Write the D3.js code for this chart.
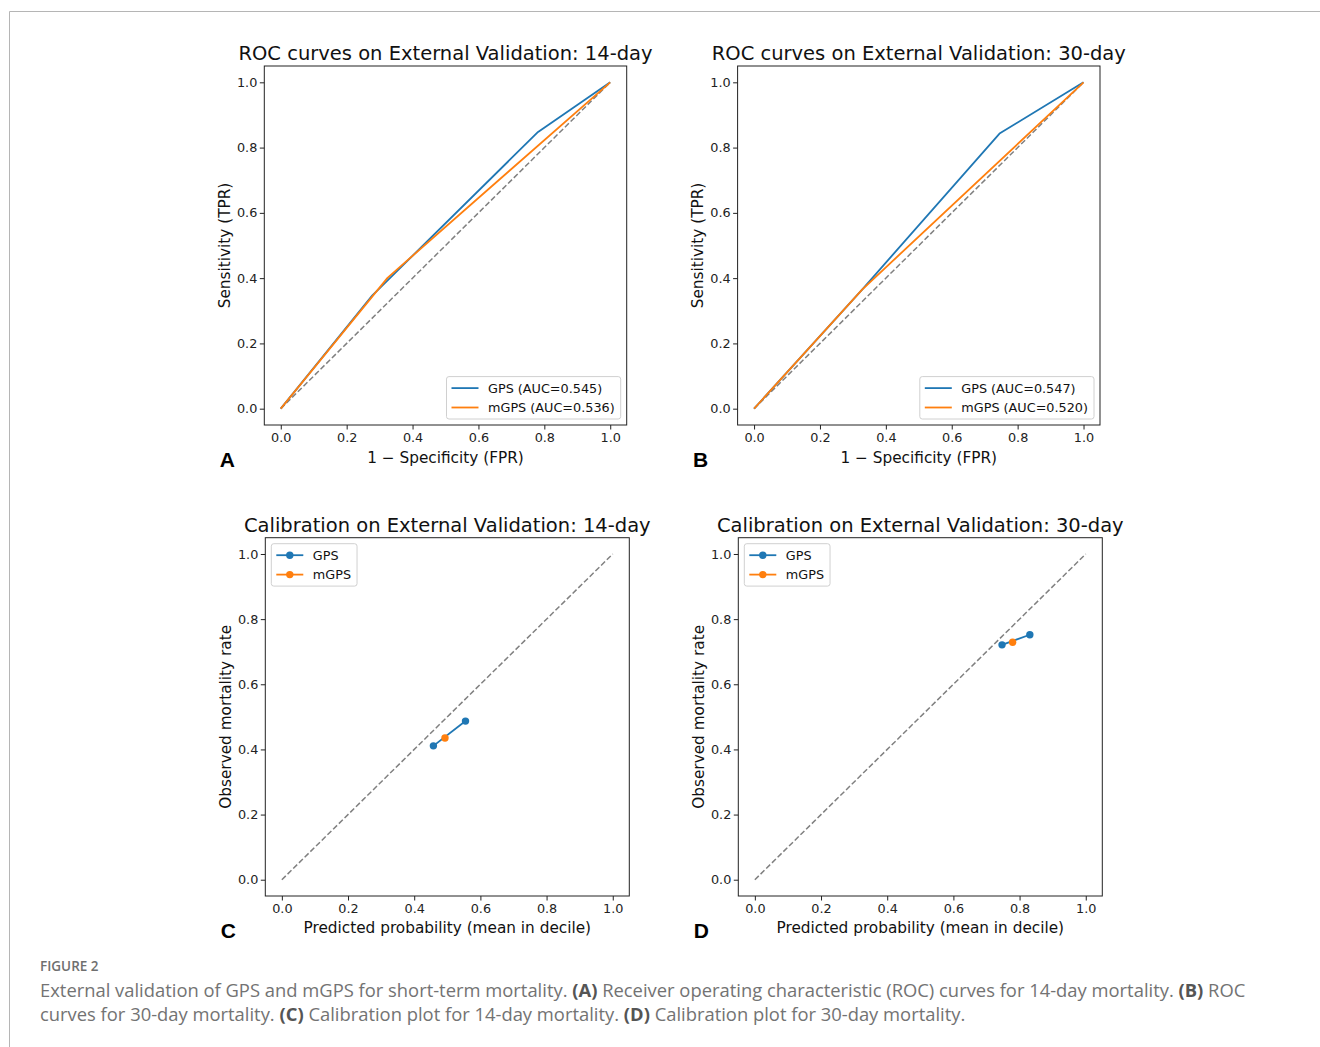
<!DOCTYPE html>
<html>
<head>
<meta charset="utf-8">
<script src="https://cdn.jsdelivr.net/npm/d3@7"></script>
<style>
  body { margin: 0; background: #fff; }
  svg text { font-family: "DejaVu Sans", sans-serif; }
</style>
</head>
<body>
<svg id="fig" width="1320" height="1047"></svg>
<script>
// ROC curve points
const gps14Fpr = [0, 0.278, 0.781, 1];
const gps14Tpr = [0, 0.347, 0.848, 1];
const mgps14Fpr = [0, 0.324, 1];
const mgps14Tpr = [0, 0.401, 1];
const gps30Fpr = [0, 0.328, 0.745, 1];
const gps30Tpr = [0, 0.365, 0.843, 1];
const mgps30Fpr = [0, 0.328, 1];
const mgps30Tpr = [0, 0.365, 1];
const aucGps = [0.545, 0.547];
const aucMgps = [0.536, 0.520];

// calibration points (mean predicted in decile vs observed)
const calGps14Pred = [0.458, 0.555];
const calGps14Obs = [0.411, 0.487];
const calMgps14Pred = [0.493];
const calMgps14Obs = [0.435];
const calGps30Pred = [0.747, 0.831];
const calGps30Obs = [0.721, 0.752];
const calMgps30Pred = [0.779];
const calMgps30Obs = [0.729];

const diagonal = [0, 1];
const tickValues = [0, 0.2, 0.4, 0.6, 0.8, 1.0];

const BLUE = "#1f77b4", ORANGE = "#ff7f0e";

const svg = d3.select("#fig");

// card border of the page
svg.append("line").attr("x1", 9.5).attr("y1", 11.5).attr("x2", 1320).attr("y2", 11.5)
    .attr("stroke", "#b5b5b5").attr("stroke-width", 1);
svg.append("line").attr("x1", 9.5).attr("y1", 11.5).attr("x2", 9.5).attr("y2", 1047)
    .attr("stroke", "#b5b5b5").attr("stroke-width", 1);

function drawPanel(p) {
    const g = svg.append("g").attr("transform", `translate(${p.x},${p.y})`);
    const x = d3.scaleLinear().domain([-0.05, 1.05]).range([0, p.w]);
    const y = d3.scaleLinear().domain([-0.05, 1.05]).range([p.h, 0]);

    // axes
    const xAxis = g.append("g").attr("transform", `translate(0,${p.h})`)
        .call(d3.axisBottom(x).tickValues(tickValues).tickFormat(d3.format(".1f"))
            .tickSize(4.5).tickPadding(3.5).tickSizeOuter(0));
    const yAxis = g.append("g")
        .call(d3.axisLeft(y).tickValues(tickValues).tickFormat(d3.format(".1f"))
            .tickSize(4.5).tickPadding(2.5).tickSizeOuter(0));
    [xAxis, yAxis].forEach(a => {
        a.select(".domain").remove();
        a.selectAll(".tick line").attr("stroke", "#222").attr("stroke-width", 1);
        a.selectAll(".tick text").attr("fill", "#222")
            .style("font-family", "DejaVu Sans").style("font-size", "12.8px");
    });

    // diagonal reference
    const line = d3.line().x(d => x(d[0])).y(d => y(d[1]));
    g.append("path")
        .attr("d", line(d3.zip(diagonal, diagonal)))
        .attr("fill", "none").attr("stroke", "#808080")
        .attr("stroke-width", 1.5).attr("stroke-dasharray", "5.5,2.5");

    p.series.forEach(s => {
        const pts = d3.zip(s.xs, s.ys);
        g.append("path")
            .attr("d", line(pts))
            .attr("fill", "none").attr("stroke", s.color)
            .attr("stroke-width", 1.8).attr("stroke-linejoin", "round");
        if (p.markers) {
            g.selectAll(null).data(pts).enter().append("circle")
                .attr("cx", d => x(d[0])).attr("cy", d => y(d[1]))
                .attr("r", 3.7).attr("fill", s.color);
        }
    });

    // frame
    g.append("rect").attr("width", p.w).attr("height", p.h)
        .attr("fill", "none").attr("stroke", "#222").attr("stroke-width", 1);

    // title and labels
    g.append("text").attr("x", p.w / 2).attr("y", -6)
        .attr("text-anchor", "middle").style("font-size", "19.5px").attr("fill", "#111")
        .text(p.title);
    g.append("text").attr("x", p.w / 2).attr("y", p.h + 37.5)
        .attr("text-anchor", "middle").style("font-size", "15.3px").attr("fill", "#111")
        .text(p.xlabel);
    g.append("text").attr("transform", `translate(-34.5,${p.h / 2}) rotate(-90)`)
        .attr("text-anchor", "middle").style("font-size", "15.3px").attr("fill", "#111")
        .text(p.ylabel);
    g.append("text").attr("x", -44.5).attr("y", p.h + 42)
        .style("font-family", "'Liberation Sans', Arial, sans-serif")
        .style("font-size", "21px").style("font-weight", "bold").attr("fill", "#000")
        .text(p.letter);

    // legend
    const leg = g.append("g");
    const box = leg.append("rect").attr("rx", 2.5).attr("ry", 2.5)
        .attr("fill", "#fff").attr("fill-opacity", 0.8)
        .attr("stroke", "#d0d0d0").attr("stroke-width", 1);
    let maxW = 0;
    p.series.forEach((s, i) => {
        const ly = 11.5 + i * 19.4;
        leg.append("line").attr("x1", 5).attr("x2", 32).attr("y1", ly).attr("y2", ly)
            .attr("stroke", s.color).attr("stroke-width", 1.8);
        if (p.markers) {
            leg.append("circle").attr("cx", 18.5).attr("cy", ly).attr("r", 3.7).attr("fill", s.color);
        }
        const t = leg.append("text").attr("x", 41.5).attr("y", ly).attr("dy", "0.35em")
            .style("font-size", "12.8px").attr("fill", "#111").text(s.label);
        maxW = Math.max(maxW, t.node().getComputedTextLength());
    });
    const bw = 41.5 + maxW + 6, bh = 11.5 + (p.series.length - 1) * 19.4 + 11.5;
    box.attr("width", bw).attr("height", bh);
    if (p.legend === "lr") {
        leg.attr("transform", `translate(${p.w - 6 - bw},${p.h - 6 - bh})`);
    } else {
        leg.attr("transform", `translate(6,6)`);
    }
}

const rocW = 362.4, rocH = 359;
const calW = 364, calH = 358.3;

drawPanel({
    x: 264.3, y: 66, w: rocW, h: rocH, legend: "lr", markers: false, letter: "A",
    title: "ROC curves on External Validation: 14-day",
    xlabel: "1 \u2212 Specificity (FPR)", ylabel: "Sensitivity (TPR)",
    series: [
        { xs: gps14Fpr, ys: gps14Tpr, color: BLUE, label: `GPS (AUC=${aucGps[0].toFixed(3)})` },
        { xs: mgps14Fpr, ys: mgps14Tpr, color: ORANGE, label: `mGPS (AUC=${aucMgps[0].toFixed(3)})` }
    ]
});
drawPanel({
    x: 737.6, y: 66, w: rocW, h: rocH, legend: "lr", markers: false, letter: "B",
    title: "ROC curves on External Validation: 30-day",
    xlabel: "1 \u2212 Specificity (FPR)", ylabel: "Sensitivity (TPR)",
    series: [
        { xs: gps30Fpr, ys: gps30Tpr, color: BLUE, label: `GPS (AUC=${aucGps[1].toFixed(3)})` },
        { xs: mgps30Fpr, ys: mgps30Tpr, color: ORANGE, label: `mGPS (AUC=${aucMgps[1].toFixed(3)})` }
    ]
});
drawPanel({
    x: 265.3, y: 537.7, w: calW, h: calH, legend: "ul", markers: true, letter: "C",
    title: "Calibration on External Validation: 14-day",
    xlabel: "Predicted probability (mean in decile)", ylabel: "Observed mortality rate",
    series: [
        { xs: calGps14Pred, ys: calGps14Obs, color: BLUE, label: "GPS" },
        { xs: calMgps14Pred, ys: calMgps14Obs, color: ORANGE, label: "mGPS" }
    ]
});
drawPanel({
    x: 738.3, y: 537.7, w: calW, h: calH, legend: "ul", markers: true, letter: "D",
    title: "Calibration on External Validation: 30-day",
    xlabel: "Predicted probability (mean in decile)", ylabel: "Observed mortality rate",
    series: [
        { xs: calGps30Pred, ys: calGps30Obs, color: BLUE, label: "GPS" },
        { xs: calMgps30Pred, ys: calMgps30Obs, color: ORANGE, label: "mGPS" }
    ]
});

// caption
const capFont = "'Open Sans', 'Noto Sans', sans-serif";
svg.append("text").attr("x", 40).attr("y", 971)
    .style("font-family", capFont).style("font-size", "13.5px").style("font-weight", 600)
    .attr("fill", "#6f6f6f").text("FIGURE 2");

const capLines = [
    [["External validation of GPS and mGPS for short-term mortality. ", false], ["(A)", true],
     [" Receiver operating characteristic (ROC) curves for 14-day mortality. ", false], ["(B)", true], [" ROC", false]],
    [["curves for 30-day mortality. ", false], ["(C)", true], [" Calibration plot for 14-day mortality. ", false],
     ["(D)", true], [" Calibration plot for 30-day mortality.", false]]
];
const capY = [996.5, 1020.5];
const capSize = 18;
const capNodes = capLines.map((parts, i) => {
    const t = svg.append("text").attr("x", 40).attr("y", capY[i])
        .style("font-family", capFont).style("font-size", capSize + "px").attr("fill", "#737373");
    parts.forEach(([txt, bold]) => {
        t.append("tspan").text(txt)
            .style("font-weight", bold ? 700 : 400)
            .attr("fill", bold ? "#555" : "#737373");
    });
    return t;
});
// fit first line to the width it has in the figure
const w0 = capNodes[0].node().getComputedTextLength();
const fitted = capSize * 1206 / w0;
capNodes.forEach(t => t.style("font-size", fitted + "px"));
</script>
</body>
</html>
